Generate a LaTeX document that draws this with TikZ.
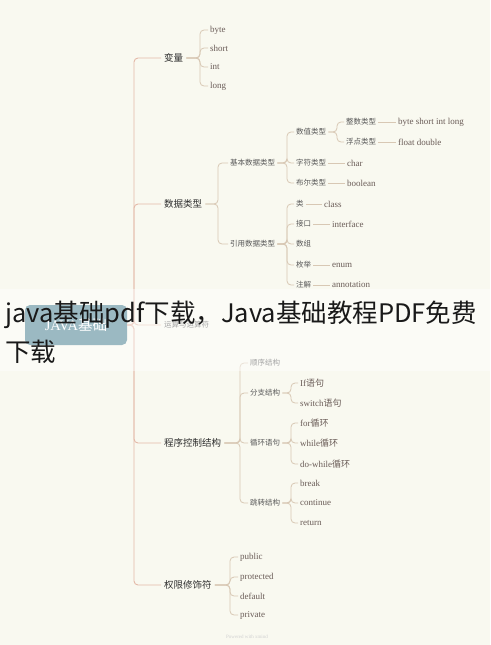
\documentclass[tikz,border=0pt]{standalone}
\usepackage{fontspec}
\setmainfont{Liberation Serif}
\newfontfamily\cjk{Noto Sans CJK SC}

\definecolor{paper}{HTML}{F9F9F0}
\definecolor{rootfill}{HTML}{4A8090}
\definecolor{trunkline}{HTML}{E4B9A8}
\definecolor{branchline}{HTML}{D8C8B4}
\definecolor{topictext}{HTML}{2E2E2E}
\definecolor{subtext}{HTML}{585858}
\definecolor{leaftext}{HTML}{6A5C57}

\tikzstyle{rootbox}=[fill=rootfill, text=white, rounded corners=5pt,
	minimum width=102pt, minimum height=40pt, inner sep=0pt,
	font=\fontsize{14.5}{16}\selectfont]
\tikzstyle{topic}=[anchor=west, inner sep=3pt, text=topictext,
	font=\cjk\fontsize{9.5}{11}\selectfont]
\tikzstyle{sub}=[anchor=west, inner sep=2pt, text=subtext,
	font=\cjk\fontsize{7.5}{9}\selectfont]
\tikzstyle{leaf}=[anchor=west, inner sep=2pt, text=leaftext,
	font=\fontsize{9}{10}\selectfont]
\tikzstyle{trunk}=[draw=trunkline, line width=0.9pt, rounded corners=4pt]
\tikzstyle{branch}=[draw=branchline, line width=0.8pt, rounded corners=4pt]
\tikzstyle{headline}=[inner sep=0pt, text=black!90,
	font=\cjk\fontsize{25.5}{30}\selectfont]

\begin{document}
\begin{tikzpicture}[x=1pt, y=-1pt]
	% Background
	\useasboundingbox (0,0) rectangle (490,645);
	\fill[paper] (0,0) rectangle (490,645);

	% Bracket axes
	\coordinate (trunkx) at (134,0);
	\coordinate (bxvar) at (200,0);
	\coordinate (bxdata) at (218,0);
	\coordinate (bxtype) at (287,0);
	\coordinate (bxnum) at (337,0);
	\coordinate (bxctrl) at (240,0);
	\coordinate (bxsub) at (291,0);
	\coordinate (bxacc) at (230,0);

	% Root and topics
	\node[rootbox] (root) at (76,325) {JAVA{\cjk 基础}};
	\node[topic] (var) at (161,58) {变量};
	\node[topic] (data) at (161,204) {数据类型};
	\node[sub, inner sep=3pt] (op) at (161,325) {运算与运算符};
	\node[topic] (ctrl) at (161,443) {程序控制结构};
	\node[topic] (acc) at (161,585) {权限修饰符};
	\foreach \t in {var,data,op,ctrl,acc} {
		\draw[trunk] (root.east) -- (root.east -| trunkx) |- (\t.west);
	}

	% Variables
	\foreach \n/\y in {byte/30,short/48,int/67,long/86} {
		\node[leaf] (\n) at (208,\y) {\n};
		\draw[branch] (var.east) -- (var.east -| bxvar) |- (\n.west);
	}

	% Data types
	\node[sub] (basic) at (228,163) {基本数据类型};
	\node[sub] (ref) at (228,244) {引用数据类型};
	\foreach \c in {basic,ref} {
		\draw[branch] (data.east) -- (data.east -| bxdata) |- (\c.west);
	}
	\node[sub] (num) at (294,132) {数值类型};
	\node[sub] (chr) at (294,163) {字符类型};
	\node[sub] (bool) at (294,183) {布尔类型};
	\foreach \c in {num,chr,bool} {
		\draw[branch] (basic.east) -- (basic.east -| bxtype) |- (\c.west);
	}
	\node[sub] (intg) at (344,122) {整数类型};
	\node[sub] (flt) at (344,142) {浮点类型};
	\foreach \c in {intg,flt} {
		\draw[branch] (num.east) -- (num.east -| bxnum) |- (\c.west);
	}
	\node[leaf] (intleaf) at (396,122) {byte short int long};
	\node[leaf] (fltleaf) at (396,142) {float double};
	\node[leaf] (chrleaf) at (345,163) {char};
	\node[leaf] (boolleaf) at (345,183) {boolean};

	\node[sub] (cls) at (294,204) {类};
	\node[sub] (intf) at (294,224) {接口};
	\node[sub] (arr) at (294,244) {数组};
	\node[sub] (enm) at (294,265) {枚举};
	\node[sub] (ann) at (294,285) {注解};
	\foreach \c in {cls,intf,arr,enm,ann} {
		\draw[branch] (ref.east) -- (ref.east -| bxtype) |- (\c.west);
	}
	\node[leaf] (clsleaf) at (322,204) {class};
	\node[leaf] (intfleaf) at (330,224) {interface};
	\node[leaf] (enmleaf) at (330,265) {enum};
	\node[leaf] (annleaf) at (330,285) {annotation};
	\foreach \a/\b in {intg/intleaf,flt/fltleaf,chr/chrleaf,bool/boolleaf,cls/clsleaf,intf/intfleaf,enm/enmleaf,ann/annleaf} {
		\draw[branch] (\a.east) -- (\b.west);
	}

	% Control structures
	\node[sub] (seq) at (248,363) {顺序结构};
	\node[sub] (br) at (248,393) {分支结构};
	\node[sub] (loop) at (248,443) {循环语句};
	\node[sub] (jump) at (248,503) {跳转结构};
	\foreach \c in {seq,br,loop,jump} {
		\draw[branch] (ctrl.east) -- (ctrl.east -| bxctrl) |- (\c.west);
	}
	\node[leaf] (ifst) at (298,383) {If{\cjk 语句}};
	\node[leaf] (swst) at (298,403) {switch{\cjk 语句}};
	\foreach \c in {ifst,swst} {
		\draw[branch] (br.east) -- (br.east -| bxsub) |- (\c.west);
	}
	\node[leaf] (forl) at (298,423) {for{\cjk 循环}};
	\node[leaf] (whilel) at (298,443) {while{\cjk 循环}};
	\node[leaf] (dowhilel) at (298,464) {do-while{\cjk 循环}};
	\foreach \c in {forl,whilel,dowhilel} {
		\draw[branch] (loop.east) -- (loop.east -| bxsub) |- (\c.west);
	}
	\foreach \n/\y in {break/483,continue/503,return/523} {
		\node[leaf] (\n) at (298,\y) {\n};
		\draw[branch] (jump.east) -- (jump.east -| bxsub) |- (\n.west);
	}

	% Access modifiers
	\foreach \n/\y in {public/557,protected/577,default/596,private/615} {
		\node[leaf] (\n) at (238,\y) {\n};
		\draw[branch] (acc.east) -- (acc.east -| bxacc) |- (\n.west);
	}

	% Footer
	\node[text=black!18, font=\fontsize{5}{6}\selectfont] (footer) at (247,637) {Powered with xmind};

	% Banner over the map
	\fill[white, opacity=0.45] (0,289) rectangle (490,371);
	\node[headline, anchor=base west] (title) at (5,322) {java基础pdf下载，Java基础教程PDF免费};
	\node[headline, anchor=base west] (title2) at (5,361) {下载};
\end{tikzpicture}
\end{document}
